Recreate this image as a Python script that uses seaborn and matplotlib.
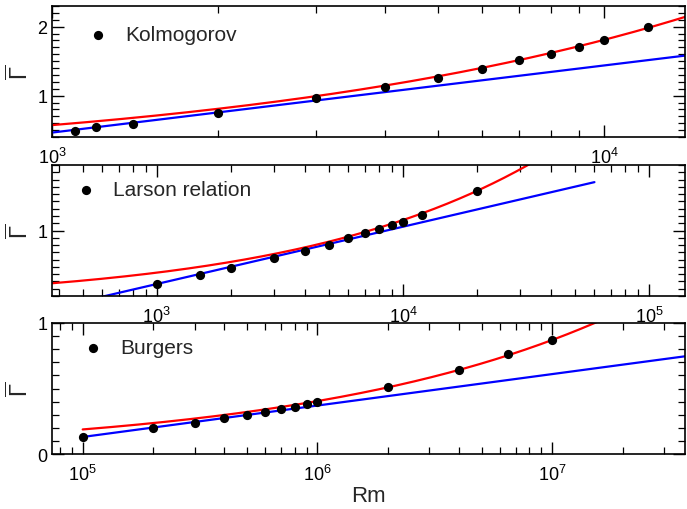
import numpy as np
import pandas as pd
import matplotlib
matplotlib.use("Agg")
import matplotlib.pyplot as plt
from matplotlib.ticker import LogLocator, MultipleLocator, NullFormatter
import seaborn as sns

sns.set_style("ticks")
plt.rcParams["font.family"] = ["Liberation Sans", "DejaVu Sans"]
plt.rcParams["mathtext.fontset"] = "custom"
plt.rcParams["mathtext.rm"] = "Liberation Sans"
plt.rcParams["mathtext.it"] = "Liberation Sans:italic"
plt.rcParams["mathtext.bf"] = "Liberation Sans:bold"

# Growth rate vs magnetic Reynolds number for three turbulence models
kol_rm = [1100, 1200, 1400, 2000, 3000, 4000, 5000, 6000, 7000, 8000, 9000, 10000, 12000]
kol_gamma = [0.49, 0.54, 0.59, 0.75, 0.96, 1.13, 1.26, 1.39, 1.51, 1.61, 1.71, 1.81, 1.99]

lar_rm = [1000, 1500, 2000, 3000, 4000, 5000, 6000, 7000, 8000, 9000, 10000, 12000, 20000]
lar_gamma = [0.265, 0.39, 0.485, 0.62, 0.72, 0.80, 0.90, 0.97, 1.02, 1.08, 1.12, 1.21, 1.54]

bur_rm = [1e5, 2e5, 3e5, 4e5, 5e5, 6e5, 7e5, 8e5, 9e5, 1e6, 2e6, 4e6, 6.5e6, 1e7]
bur_gamma = [0.127, 0.198, 0.239, 0.272, 0.298, 0.32, 0.344, 0.361, 0.379, 0.395, 0.51, 0.64, 0.76, 0.87]

labels = ["Kolmogorov", "Larson relation", "Burgers"]

# Large-Rm power law fit: Gamma = amp * Rm**expo
power_amp = [0.0181, 0.021, 0.00404]
power_exp = [0.5, 0.434, 1.0 / 3.0]
# Logarithmic fit: Gamma = g0 + slope * (log10(Rm) - log10(rm0))
log_rm0 = [1e3, 1e3, 1e5]
log_g0 = [0.464, 0.265, 0.13]
log_slope = [0.974, 0.787, 0.24]

xlims = [(1000, 14000), (375, 1.4e5), (7.4e4, 3.68e7)]
ylims = [(0.4, 2.3), (0.1, 1.9), (0.0, 1.0)]
power_range = [(1000, 14000), (375, 1.4e5), (1e5, 3.68e7)]
log_range = [(1000, 14000), (150, 6e4), (1e5, 3.68e7)]
legend_anchor = [(0.056, 0.855), (0.037, 0.885), (0.048, 0.885)]

datasets = [(kol_rm, kol_gamma), (lar_rm, lar_gamma), (bur_rm, bur_gamma)]

W, H = 687, 510
fig = plt.figure(figsize=(W / 100, H / 100), dpi=100)
left, right = 52, 685
panel_px = [(7, 138), (166, 297), (324, 455)]

for i, (top, bottom) in enumerate(panel_px):
    ax = fig.add_axes([left / W, 1 - bottom / H, (right - left) / W, (bottom - top) / H])
    rm, gam = datasets[i]
    df = pd.DataFrame({"Rm": rm, "Gamma": gam})

    xr = np.logspace(np.log10(power_range[i][0]), np.log10(power_range[i][1]), 400)
    red = power_amp[i] * xr ** power_exp[i]
    xb = np.logspace(np.log10(log_range[i][0]), np.log10(log_range[i][1]), 400)
    blue = log_g0[i] + log_slope[i] * (np.log10(xb) - np.log10(log_rm0[i]))

    sns.lineplot(x=xb, y=blue, ax=ax, color="#0000ff", lw=1.6, sort=False,
                 estimator=None, legend=False)
    sns.lineplot(x=xr, y=red, ax=ax, color="#ff0000", lw=1.6, sort=False,
                 estimator=None, legend=False)
    sns.scatterplot(data=df, x="Rm", y="Gamma", ax=ax, color="black", s=44,
                    linewidth=0, label=labels[i], zorder=5)

    ax.set_xscale("log")
    ax.set_xlim(*xlims[i])
    ax.set_ylim(*ylims[i])
    ax.xaxis.set_major_locator(LogLocator(base=10))
    ax.xaxis.set_minor_locator(LogLocator(base=10, subs=np.arange(2, 10)))
    ax.xaxis.set_minor_formatter(NullFormatter())
    ax.yaxis.set_major_locator(MultipleLocator(1))
    ax.yaxis.set_minor_locator(MultipleLocator(0.1))

    ax.tick_params(which="both", direction="in", top=True, right=True,
                   labelsize=13, colors="black")
    ax.tick_params(which="major", length=8.6, width=1.0)
    ax.tick_params(which="minor", length=4.7, width=0.9)
    ax.tick_params(axis="x", pad=7)
    ax.tick_params(axis="y", pad=3.5)
    for sp in ax.spines.values():
        sp.set_linewidth(1.2)
        sp.set_color("black")

    ax.set_xlabel("")
    ax.set_ylabel(r"$\overline{\Gamma}$", fontsize=17)
    ax.yaxis.set_label_coords(-0.03, 0.5)

    ax.legend(loc="upper left", bbox_to_anchor=legend_anchor[i], frameon=False,
              fontsize=15, borderpad=0, borderaxespad=0, handlelength=1.0,
              handletextpad=0.8)

    if i == 2:
        ax.set_xlabel("Rm", fontsize=16, labelpad=1)

fig.savefig("out.png", dpi=100)
